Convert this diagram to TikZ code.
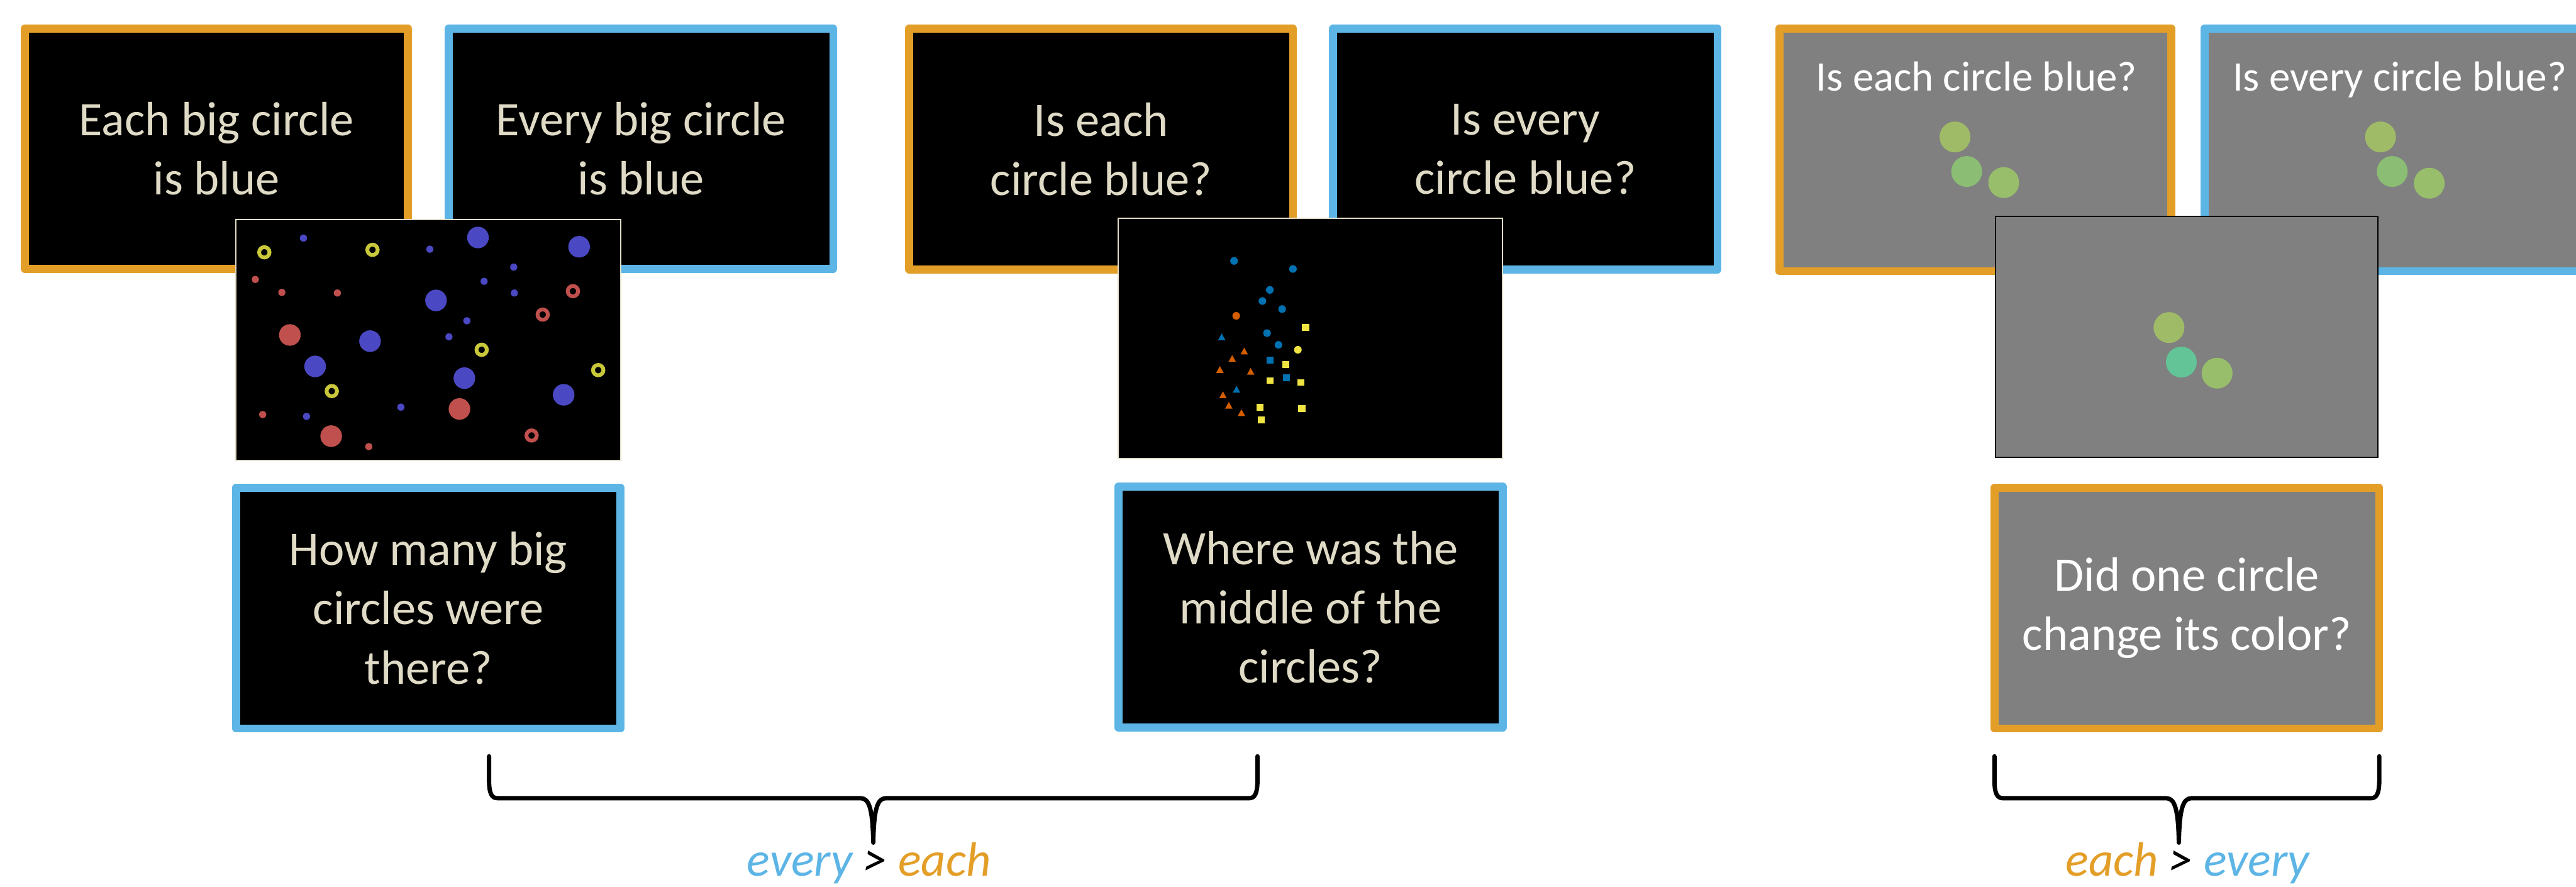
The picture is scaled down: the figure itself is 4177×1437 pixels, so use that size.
\documentclass[tikz,border=0pt]{standalone}
\usepackage{fontspec}
\setmainfont{Carlito}
\usepackage{xcolor}
\usepackage{tikz}
\usetikzlibrary{positioning}

\definecolor{eachorange}{HTML}{E39E28}
\definecolor{everyblue}{HTML}{5DB5E6}
\definecolor{cream}{HTML}{E0DBC6}
\definecolor{slidegray}{HTML}{808080}
\definecolor{dotblue}{HTML}{4B48C4}
\definecolor{dotred}{HTML}{C0504D}
\definecolor{ringyellow}{HTML}{C9C83A}
\definecolor{shapeblue}{HTML}{0072B2}
\definecolor{shapeorange}{HTML}{D55E00}
\definecolor{shapeyellow}{HTML}{F0E442}
\definecolor{greenA}{HTML}{A0BB68}
\definecolor{greenB}{HTML}{8BBE74}
\definecolor{greenC}{HTML}{98BE6C}
\definecolor{greenD}{HTML}{62C497}

\begin{document}
\begin{tikzpicture}[
    x=0.01cm, y=-0.01cm,
    slide/.style={rectangle, line width=0.13cm, line join=round, fill=black, text=cream, align=center, inner sep=0pt, minimum width=6.23cm, minimum height=3.9cm, font=\fontsize{22.2}{27.3}\selectfont},
    eachslide/.style={slide, draw=eachorange},
    everyslide/.style={slide, draw=everyblue},
    grayslide/.style={fill=slidegray, text=white},
    stim/.style={rectangle, draw=cream, line width=0.02cm, fill=black, inner sep=0pt, minimum width=6.23cm, minimum height=3.9cm},
    toptext/.style={text=white, anchor=base, inner sep=0pt, font=\fontsize{19.4}{23.3}\selectfont},
    qbrace/.style={line width=0.07cm, line cap=round, line join=round},
    verdict/.style={anchor=base, inner sep=0pt, font=\fontsize{22.2}{27.3}\selectfont\itshape}
]
\path[use as bounding box, fill=white] (0,0) rectangle (4177,1437);

% Sentence slides
\node (each1) [eachslide, minimum width=6.21cm, minimum height=3.89cm] at (351,241) {Each big circle\\is blue};
\node (every1) [everyslide, minimum height=3.89cm, right=0.53cm of each1] {Every big circle\\is blue};
\node (each2) [eachslide, minimum width=6.22cm] at (1785.5,241.5) {Is each\\circle blue?};
\node (every2) [everyslide, right=0.52cm of each2] {Is every\\circle blue?};
\node (each3) [eachslide, grayslide, minimum width=6.35cm, minimum height=3.93cm] at (3203,243) {};
\node (every3) [everyslide, grayslide, minimum width=6.35cm, minimum height=3.93cm, right=0.41cm of each3] {};
\node (each3q) [toptext] at (3205,147) {Is each circle blue?};
\node (every3q) [toptext] at (3891,147) {Is every circle blue?};

% Dot arrays on the grey slides
\fill[greenA] (3170,222) circle[radius=0.25cm];
\fill[greenB] (3189,278) circle[radius=0.25cm];
\fill[greenC] (3249,296) circle[radius=0.25cm];
\fill[greenA] (3860,222) circle[radius=0.25cm];
\fill[greenB] (3879,278) circle[radius=0.25cm];
\fill[greenC] (3939,297) circle[radius=0.25cm];

% Stimulus 1: big and small circles
\node (stim1) [stim] at (694.5,551) {};
\foreach \px/\py in {775/385, 939/400, 707/487, 600/553, 511/594, 753/613, 914/640}
    \fill[dotblue] (\px,\py) circle[radius=0.175cm];
\foreach \px/\py in {492/386, 697/404, 833/433, 785/456, 834/475, 757/520, 728/546, 650/660, 497/675}
    \fill[dotblue] (\px,\py) circle[radius=0.058cm];
\foreach \px/\py in {470/543, 745/663, 537/707}
    \fill[dotred] (\px,\py) circle[radius=0.175cm];
\foreach \px/\py in {414/453, 457/474, 547/475, 426/672, 598/724}
    \fill[dotred] (\px,\py) circle[radius=0.058cm];
\foreach \px/\py in {428.6/409, 604/405, 781/567, 970/600, 538/634}
    \draw[ringyellow, line width=0.062cm] (\px,\py) circle[radius=0.084cm];
\foreach \px/\py in {929/472, 880/510, 862/706}
    \draw[dotred, line width=0.062cm] (\px,\py) circle[radius=0.084cm];

% Stimulus 2: shapes
\node (stim2) [stim] at (2125,548.5) {};
\foreach \px/\py in {2001/423, 2096.5/436, 2059/470, 2047/488, 2079/501, 2054.5/540, 2073/559}
    \fill[shapeblue] (\px,\py) circle[radius=0.062cm];
\fill[shapeorange] (2004.5,512) circle[radius=0.062cm];
\fill[shapeyellow] (2104.5,567) circle[radius=0.062cm];
\foreach \px/\py in {2117/531, 2085/591, 2059.5/617, 2109.5/620, 2043/660, 2111/662, 2045/681}
    \fill[shapeyellow] (\px,\py) ++(-5.75,-5.5) rectangle ++(11.5,11);
\foreach \px/\py in {2059.5/584, 2086/612}
    \fill[shapeblue] (\px,\py) ++(-5.75,-5.5) rectangle ++(11.5,11);
\foreach \px/\py in {1981/546, 2005/631}
    \fill[shapeblue] (\px,\py) ++(-6,5.5) -- ++(12,0) -- ++(-6,-11) -- cycle;
\foreach \px/\py in {2017.5/569, 1998/581, 1978/599, 2028/602, 1983/640, 1992.5/657, 2013/669}
    \fill[shapeorange] (\px,\py) ++(-6,5.5) -- ++(12,0) -- ++(-6,-11) -- cycle;

% Stimulus 3: colour change
\node (stim3) [stim, draw=black, fill=slidegray, minimum width=6.2cm] at (3546,546) {};
\fill[greenA] (3517,531) circle[radius=0.25cm];
\fill[greenD] (3537,587) circle[radius=0.25cm];
\fill[greenC] (3595,605) circle[radius=0.25cm];

% Question slides
\node (q1) [everyslide, below=0.37cm of stim1] {How many big\\circles were\\there?};
\node (q2) [everyslide, below=0.38cm of stim2] {Where was the\\middle of the\\circles?};
\node (q3) [eachslide, grayslide, below=0.42cm of stim3] {Did one circle\\change its color?};

% Braces
\coordinate (b1l) at (793,1226);
\coordinate (b1r) at (2039,1226);
\coordinate (b1tip) at (1416,1366);
\coordinate (b2l) at (3234,1226);
\coordinate (b2r) at (3858,1226);
\coordinate (b2tip) at (3533,1366);

\draw[qbrace] (b1l) -- ++(0,38) .. controls +(0,22) and +(-10,0) .. ++(14,30) -- (1396,1294)
    .. controls +(14,0) and +(-1,-52) .. (b1tip) .. controls +(1,-52) and +(-14,0) .. (1436,1294)
    -- (2025,1294) .. controls +(10,0) and +(0,22) .. ++(14,-30) -- (b1r);
\draw[qbrace] (b2l) -- ++(0,38) .. controls +(0,22) and +(-10,0) .. ++(14,30) -- (3513,1294)
    .. controls +(14,0) and +(-1,-52) .. (b2tip) .. controls +(1,-52) and +(-14,0) .. (3553,1294)
    -- (3844,1294) .. controls +(10,0) and +(0,22) .. ++(14,-30) -- (b2r);

\node (verdict1) [verdict] at (1409,1420) {\textcolor{everyblue}{every} > \textcolor{eachorange}{each}};
\node (verdict2) [verdict] at (3547,1420) {\textcolor{eachorange}{each} > \textcolor{everyblue}{every}};

\end{tikzpicture}
\end{document}
